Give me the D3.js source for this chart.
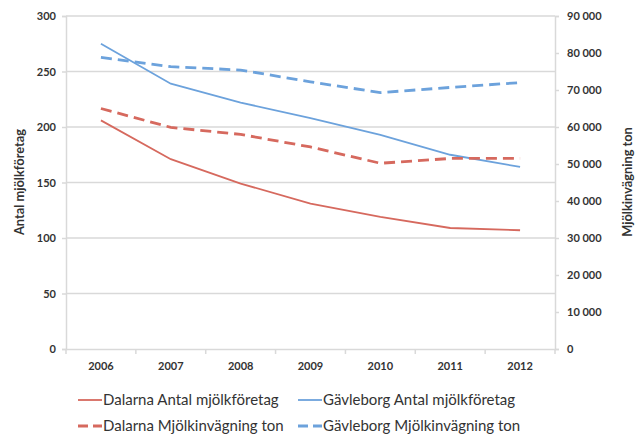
<!DOCTYPE html>
<html>
<head>
<meta charset="utf-8">
<script src="https://cdn.jsdelivr.net/npm/d3@7"></script>
<style>
  body { margin: 0; background: #fff; }
  text { font-family: Lato, "Open Sans", sans-serif; fill: #333; }
</style>
</head>
<body>
<div id="chart"></div>
<script>
var years = ["2006", "2007", "2008", "2009", "2010", "2011", "2012"];
var dalarnaAntal = [206, 171, 149, 131, 119, 109, 107];
var gavleborgAntal = [275, 239, 222, 208, 193, 175, 164];
var dalarnaTon = [65000, 59900, 58000, 54600, 50200, 51500, 51500];
var gavleborgTon = [78800, 76300, 75400, 72200, 69300, 70700, 72000];
var leftTicks = [0, 50, 100, 150, 200, 250, 300];
var rightTicks = [0, 10000, 20000, 30000, 40000, 50000, 60000, 70000, 80000, 90000];

var width = 640, height = 437;
var plotLeft = 66, plotRight = 555, plotTop = 16, plotBottom = 349;

var svg = d3.select("#chart").append("svg")
    .attr("width", width)
    .attr("height", height);

var x = d3.scaleBand().domain(years).range([plotLeft, plotRight]);
var yL = d3.scaleLinear().domain([0, 300]).range([plotBottom, plotTop]);
var yR = d3.scaleLinear().domain([0, 90000]).range([plotBottom, plotTop]);

var red = "#d6695e", blue = "#6ca2dc", grid = "#d9d9d9";

// gridlines
svg.append("g").selectAll("line")
    .data(leftTicks.slice(1))
    .join("line")
    .attr("x1", plotLeft).attr("x2", plotRight)
    .attr("y1", d => yL(d)).attr("y2", d => yL(d))
    .attr("stroke", grid).attr("stroke-width", 1.5);

// left axis
var gL = svg.append("g")
    .attr("transform", "translate(" + plotLeft + ",0)")
    .call(d3.axisLeft(yL).tickValues(leftTicks).tickSize(4).tickPadding(6));
// right axis
var gR = svg.append("g")
    .attr("transform", "translate(" + plotRight + ",0)")
    .call(d3.axisRight(yR).tickValues(rightTicks).tickSize(4).tickPadding(8)
        .tickFormat(d => d3.format(",")(d).replace(",", " ")));
// x axis
var gX = svg.append("g")
    .attr("transform", "translate(0," + plotBottom + ")")
    .call(d3.axisBottom(x).tickSize(0).tickPadding(13));
gX.selectAll(".between")
    .data(d3.range(years.length + 1))
    .join("line")
    .attr("x1", i => plotLeft + i * x.step()).attr("x2", i => plotLeft + i * x.step())
    .attr("y1", 0).attr("y2", 5)
    .attr("stroke", grid).attr("stroke-width", 1.5);

[gL, gR, gX].forEach(function(g) {
    g.select(".domain").attr("stroke", grid).attr("stroke-width", 1.5);
    g.selectAll(".tick line").attr("stroke", grid).attr("stroke-width", 1.5);
    g.selectAll("text").style("font-size", "11px").style("font-weight", "700").attr("fill", "#404040");
});

// axis titles
svg.append("text")
    .attr("transform", "translate(24,182) rotate(-90)")
    .attr("text-anchor", "middle")
    .style("font-size", "12.8px").style("font-weight", "700")
    .text("Antal mjölkföretag");
svg.append("text")
    .attr("transform", "translate(632,182) rotate(-90)")
    .attr("text-anchor", "middle")
    .style("font-size", "12.8px").style("font-weight", "700")
    .text("Mjölkinvägning ton");

var cx = d => x(d) + x.bandwidth() / 2;
var series = [
    { name: "Dalarna Antal mjölkföretag", values: dalarnaAntal, y: yL, color: red, dash: null },
    { name: "Gävleborg Antal mjölkföretag", values: gavleborgAntal, y: yL, color: blue, dash: null },
    { name: "Dalarna Mjölkinvägning ton", values: dalarnaTon, y: yR, color: red, dash: "11,6" },
    { name: "Gävleborg Mjölkinvägning ton", values: gavleborgTon, y: yR, color: blue, dash: "11,6" }
];

series.forEach(function(s) {
    var line = d3.line()
        .x((d, i) => cx(years[i]))
        .y(d => s.y(d));
    svg.append("path")
        .datum(s.values)
        .attr("d", line)
        .attr("fill", "none")
        .attr("stroke", s.color)
        .attr("stroke-width", s.dash ? 2.8 : 1.8)
        .attr("stroke-dasharray", s.dash);
});

// legend
var legend = svg.append("g");
var lx = [78, 298], ly = [400, 426];
series.forEach(function(s, i) {
    var g = legend.append("g")
        .attr("transform", "translate(" + lx[i % 2] + "," + ly[Math.floor(i / 2)] + ")");
    g.append("line")
        .attr("x1", 0).attr("x2", 24).attr("y1", 0).attr("y2", 0)
        .attr("stroke", s.color)
        .attr("stroke-width", s.dash ? 2.8 : 1.8)
        .attr("stroke-dasharray", s.dash ? "10,5" : null);
    g.append("text")
        .attr("x", 25).attr("y", 0).attr("dy", "0.35em")
        .style("font-size", "15px")
        .attr("fill", "#404040")
        .text(s.name);
});
</script>
</body>
</html>
